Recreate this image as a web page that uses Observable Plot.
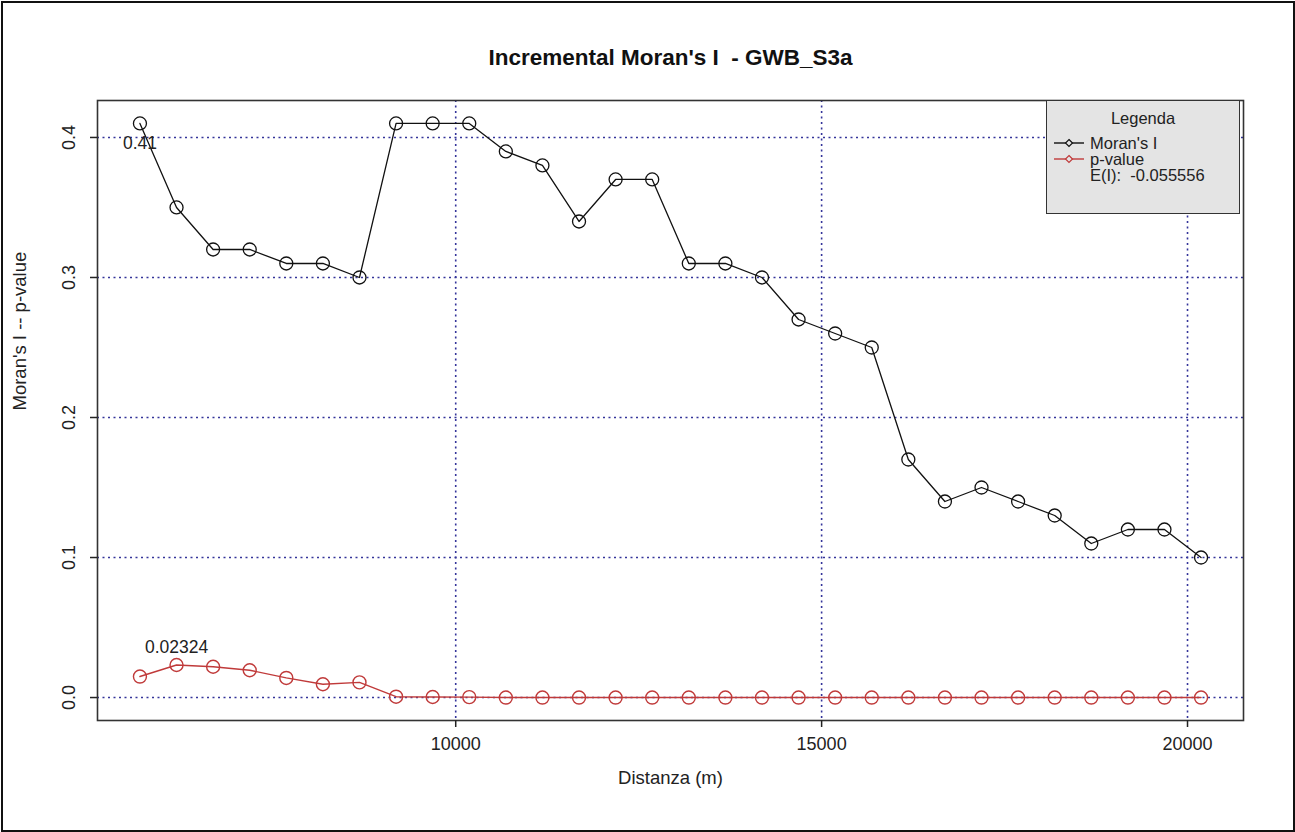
<!DOCTYPE html>
<html>
<head>
<meta charset="utf-8">
<script src="https://cdn.jsdelivr.net/npm/d3@7"></script>
<script src="https://cdn.jsdelivr.net/npm/@observablehq/plot@0.6"></script>
<style>
  html, body { margin: 0; padding: 0; background: #fff; }
  #wrap { position: relative; width: 1295px; height: 832px; font-family: "Liberation Sans", Arial, sans-serif; }
  #border { position: absolute; left: 1px; top: 1px; width: 1290px; height: 827px; border: 2px solid #111; pointer-events: none; }
  #legend { position: absolute; left: 1046px; top: 100px; width: 192px; height: 112px; background: #e4e4e4; border: 1.5px solid #333; color: #222; font-size: 16.5px; }
  #legend .ttl { position: absolute; left: 0; right: 0; top: 8px; text-align: center; line-height: 18px; }
  #legend .row { position: absolute; left: 6px; height: 16px; line-height: 16px; display: flex; align-items: center; }
  #legend .row svg { margin-right: 5px; }
</style>
</head>
<body>
<div id="wrap">
  <div id="chart"></div>
  <div id="legend"></div>
  <div id="border"></div>
</div>
<script>
const title = "Incremental Moran's I  - GWB_S3a";
const xLabel = "Distanza (m)";
const yLabel = "Moran's I -- p-value";
const distances = [5685, 6185, 6685, 7185, 7685, 8185, 8685, 9185, 9685, 10185,
  10685, 11185, 11685, 12185, 12685, 13185, 13685, 14185, 14685, 15185,
  15685, 16185, 16685, 17185, 17685, 18185, 18685, 19185, 19685, 20185];
const moranI = [0.41, 0.35, 0.32, 0.32, 0.31, 0.31, 0.30, 0.41, 0.41, 0.41,
  0.39, 0.38, 0.34, 0.37, 0.37, 0.31, 0.31, 0.30, 0.27, 0.26,
  0.25, 0.17, 0.14, 0.15, 0.14, 0.13, 0.11, 0.12, 0.12, 0.10];
const pValue = [0.0150, 0.02324, 0.0220, 0.0195, 0.0140, 0.0095, 0.0108, 0.0006, 0.0004, 0.0003,
  0, 0, 0, 0, 0, 0, 0, 0, 0, 0,
  0, 0, 0, 0, 0, 0, 0, 0, 0, 0];
const expectedI = "-0.055556";
const seriesNames = ["Moran's I", "p-value"];
const xTicks = [10000, 15000, 20000];
const yTicks = [0, 0.1, 0.2, 0.3, 0.4];

const moranColor = "#111111";
const pColor = "#c03a3a";
const gridColor = "#34349a";

const moranData = distances.map((d, i) => ({x: d, y: moranI[i]}));
const pData = distances.map((d, i) => ({x: d, y: pValue[i]}));

// R-style 4% axis expansion
const xMin = d3.min(distances), xMax = d3.max(distances);
const yMin = Math.min(d3.min(moranI), d3.min(pValue)), yMax = Math.max(d3.max(moranI), d3.max(pValue));
const xPad = (xMax - xMin) * 0.04, yPad = (yMax - yMin) * 0.04;

const plot = Plot.plot({
  width: 1295,
  height: 832,
  marginLeft: 97,
  marginRight: 52,
  marginTop: 100,
  marginBottom: 112,
  style: {fontFamily: "Liberation Sans, Arial, sans-serif", fontSize: "18px", color: "#222", background: "transparent"},
  x: {domain: [xMin - xPad, xMax + xPad]},
  y: {domain: [yMin - yPad, yMax + yPad]},
  marks: [
    Plot.gridX(xTicks, {stroke: gridColor, strokeOpacity: 1, strokeWidth: 1.6, strokeDasharray: "2,3.5"}),
    Plot.gridY(yTicks, {stroke: gridColor, strokeOpacity: 1, strokeWidth: 1.6, strokeDasharray: "2,3.5"}),
    Plot.line(pData, {x: "x", y: "y", stroke: pColor, strokeWidth: 1.4}),
    Plot.dot(pData, {x: "x", y: "y", r: 6.5, stroke: pColor, strokeWidth: 1.4, fill: "none"}),
    Plot.line(moranData, {x: "x", y: "y", stroke: moranColor, strokeWidth: 1.3}),
    Plot.dot(moranData, {x: "x", y: "y", r: 6.5, stroke: moranColor, strokeWidth: 1.3, fill: "none"}),
    Plot.text(moranData, Plot.selectMaxY({x: "x", y: "y", text: d => String(d.y), dy: 20, fill: "#222", fontSize: 17.5})),
    Plot.text(pData, Plot.selectMaxY({x: "x", y: "y", text: d => String(d.y), dy: -18, fill: "#222", fontSize: 17.5})),
    Plot.frame({stroke: "#333", strokeWidth: 1.6}),
    Plot.axisX(xTicks, {tickSize: 7, tickPadding: 10, tickFormat: d => String(d), label: null, stroke: "#222", strokeWidth: 1.5, fill: "#222", fontSize: 18}),
    Plot.axisY(yTicks, {tickSize: 7, tickPadding: 16, tickRotate: -90, tickFormat: d => d.toFixed(1), label: null, stroke: "#222", strokeWidth: 1.5, fill: "#222", fontSize: 18}),
    Plot.text([title], {frameAnchor: "top", dy: -43, lineAnchor: "middle", fontWeight: "bold", fontSize: 22.5, fill: "#111"}),
    Plot.text([xLabel], {frameAnchor: "bottom", dy: 58, lineAnchor: "middle", fontSize: 18.5, fill: "#222"}),
    Plot.text([yLabel], {frameAnchor: "left", dx: -77, rotate: -90, lineAnchor: "middle", fontSize: 18.5, fill: "#222"})
  ]
});
document.getElementById("chart").appendChild(plot);

// Legend (R-style legend box)
const legend = document.getElementById("legend");
const sw = (c) => `<svg width="32" height="12"><line x1="1" y1="6" x2="31" y2="6" stroke="${c}" stroke-width="1.4"/><path d="M16 2.5 L19.5 6 L16 9.5 L12.5 6 Z" fill="#e4e4e4" stroke="${c}" stroke-width="1.2"/></svg>`;
legend.innerHTML = `<div class="ttl">Legenda</div>
<div class="row" style="top:34px">${sw(moranColor)}<span>${seriesNames[0]}</span></div>
<div class="row" style="top:50px">${sw(pColor)}<span>${seriesNames[1]}</span></div>
<div class="row" style="top:66px"><span style="display:inline-block;width:37px"></span><span>E(I):&nbsp;&nbsp;${expectedI}</span></div>`;
</script>
</body>
</html>
